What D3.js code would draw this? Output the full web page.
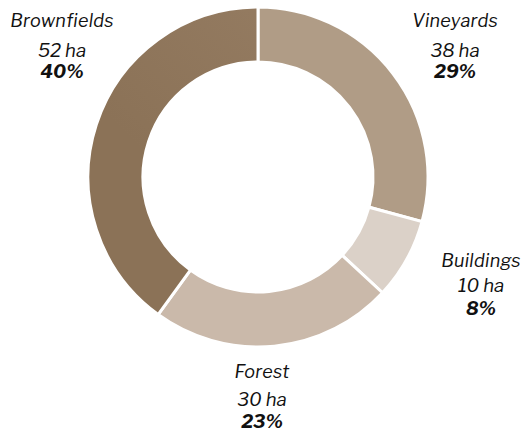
<!DOCTYPE html>
<html>
<head>
<meta charset="utf-8">
<script src="https://cdn.jsdelivr.net/npm/d3@7"></script>
<style>
  body { margin: 0; background: #fff; }
  text { font-family: "Libre Franklin", Inter, "Open Sans", sans-serif; font-style: italic; fill: #111; }
</style>
</head>
<body>
<script>
var WIDTH = 522,
    HEIGHT = 432,
    CX = 258,
    CY = 177,
    OUTER = 170,
    INNER = 115;

var categories = ['Vineyards', 'Buildings', 'Forest', 'Brownfields'];
var hectares = [38, 10, 30, 52];
var percents = ['29%', '8%', '23%', '40%'];
var colors = ['#b09c86', '#dbd1c8', '#cab9aa', 'url(#brownGrad)'];

// where each label block sits (centre x, baseline of first line)
var labelAt = [[455, 27], [481, 267], [262, 378], [62, 27]];
var labelGaps = [[0, 30, 51], [0, 25, 48], [0, 28, 50], [0, 30, 51]];

document.addEventListener('DOMContentLoaded', function() {
    var svg = d3.select('body').append('svg')
        .attr('width', WIDTH)
        .attr('height', HEIGHT);

    var grad = svg.append('defs').append('linearGradient')
        .attr('id', 'brownGrad')
        .attr('gradientUnits', 'userSpaceOnUse')
        .attr('x1', CX - OUTER).attr('y1', CY)
        .attr('x2', CX).attr('y2', CY - OUTER);
    grad.append('stop').attr('offset', '0%').attr('stop-color', '#8b7257');
    grad.append('stop').attr('offset', '100%').attr('stop-color', '#967d63');

    var pie = d3.pie().sort(null).value(d => d);
    var arc = d3.arc().innerRadius(INNER).outerRadius(OUTER);

    var g = svg.append('g').attr('transform', 'translate(' + CX + ',' + CY + ')');

    g.selectAll('path')
        .data(pie(hectares))
        .enter()
        .append('path')
        .attr('d', arc)
        .attr('fill', (d, i) => colors[i])
        .attr('stroke', '#fff')
        .attr('stroke-width', 3);

    categories.forEach(function(name, i) {
        var t = svg.append('g').attr('transform', 'translate(' + labelAt[i][0] + ',' + labelAt[i][1] + ')');
        var gaps = labelGaps[i];
        t.append('text').attr('y', gaps[0]).attr('text-anchor', 'middle')
            .style('font-size', '18px').style('letter-spacing', '0.3px').text(name);
        t.append('text').attr('y', gaps[1]).attr('text-anchor', 'middle')
            .style('font-size', '18.5px').text(hectares[i] + ' ha');
        t.append('text').attr('y', gaps[2]).attr('text-anchor', 'middle')
            .style('font-size', '18.5px').style('font-weight', 'bold').text(percents[i]);
    });
});
</script>
</body>
</html>
